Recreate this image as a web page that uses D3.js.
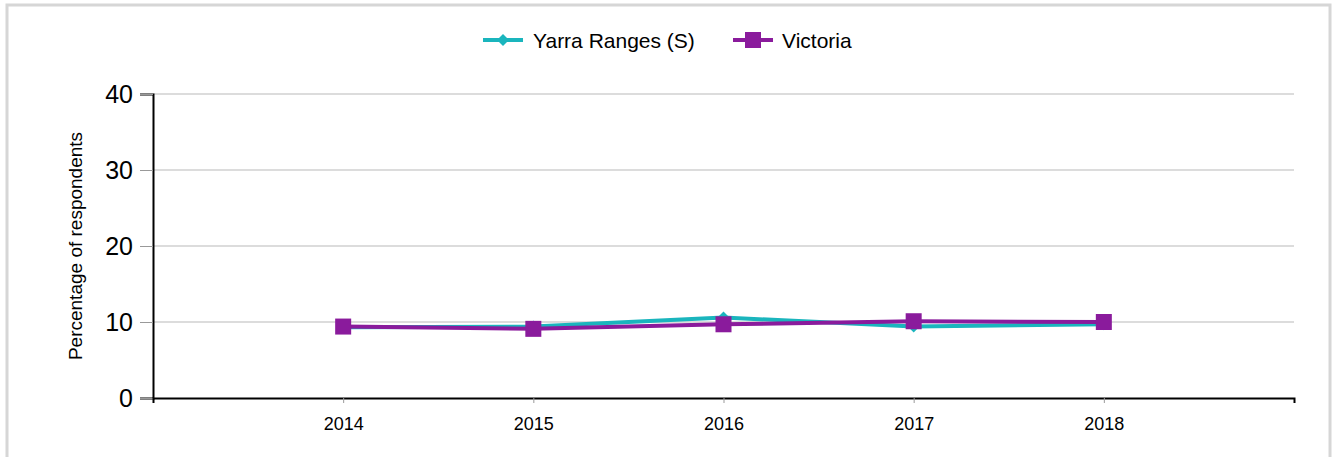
<!DOCTYPE html>
<html lang="en">
<head>
  <meta charset="UTF-8" />
  <title>Percentage of respondents</title>
  <script src="https://d3js.org/d3.v7.min.js"></script>
  <style>
    body {
      margin: 0;
      background: white;
      font-family: Arial, "Liberation Sans", sans-serif;
    }
    svg { display: block; }
    .grid line { stroke: #dcdcdc; stroke-width: 2px; }
  </style>
</head>
<body>
  <svg width="1338" height="457"></svg>

  <script>
    const years = ["2014", "2015", "2016", "2017", "2018"];
    const yarraRanges = [9.3, 9.4, 10.6, 9.4, 9.7];
    const victoria = [9.4, 9.1, 9.7, 10.1, 10.0];
    const yTicks = [0, 10, 20, 30, 40];

    const series = [
      { name: "Yarra Ranges (S)", values: yarraRanges, color: "#1ab5bd", marker: "diamond" },
      { name: "Victoria", values: victoria, color: "#8a1b9c", marker: "square" }
    ];

    const svg = d3.select("svg");

    // outer frame
    svg.append("rect")
      .attr("x", 7).attr("y", 5)
      .attr("width", 1323).attr("height", 470)
      .attr("fill", "none")
      .attr("stroke", "#d6d6d6")
      .attr("stroke-width", 3);

    const plotLeft = 153, plotRight = 1294, plotTop = 94, plotBottom = 398;

    const x = d3.scalePoint().domain(years).range([plotLeft, plotRight]).padding(1);
    const y = d3.scaleLinear().domain([0, 40]).range([plotBottom, plotTop]);

    // gridlines
    svg.append("g")
      .attr("class", "grid")
      .selectAll("line")
      .data(yTicks.filter(d => d > 0))
      .join("line")
      .attr("x1", plotLeft).attr("x2", plotRight)
      .attr("y1", d => y(d)).attr("y2", d => y(d));

    // y axis
    const yAxis = svg.append("g")
      .attr("transform", `translate(${plotLeft},0)`)
      .call(d3.axisLeft(y).tickValues(yTicks).tickSize(13).tickPadding(7));
    yAxis.select(".domain").attr("stroke", "#000").attr("stroke-width", 2);
    yAxis.selectAll(".tick line").attr("stroke", "#999").attr("stroke-width", 1);
    yAxis.selectAll(".tick text")
      .attr("font-size", 25)
      .attr("font-family", "Arial, 'Liberation Sans', sans-serif")
      .attr("fill", "#000");

    // x axis
    const xAxis = svg.append("g")
      .attr("transform", `translate(0,${plotBottom})`)
      .call(d3.axisBottom(x).tickSize(5).tickPadding(14).tickSizeOuter(5));
    xAxis.select(".domain").attr("stroke", "#000").attr("stroke-width", 2);
    xAxis.selectAll(".tick line").attr("stroke", "#999");
    xAxis.selectAll(".tick text")
      .attr("font-size", 18)
      .attr("font-family", "Arial, 'Liberation Sans', sans-serif")
      .attr("fill", "#000");

    // y title
    svg.append("text")
      .attr("transform", `translate(82,${(plotTop + plotBottom) / 2}) rotate(-90)`)
      .attr("text-anchor", "middle")
      .attr("font-size", 19)
      .text("Percentage of respondents");

    const line = d3.line()
      .x((d, i) => x(years[i]))
      .y(d => y(d));

    function drawMarker(g, type, color, cx, cy) {
      if (type === "square") {
        g.append("rect")
          .attr("x", cx - 8).attr("y", cy - 8)
          .attr("width", 16).attr("height", 16)
          .attr("fill", color);
      } else {
        g.append("path")
          .attr("d", `M${cx},${cy - 6}L${cx + 6},${cy}L${cx},${cy + 6}L${cx - 6},${cy}Z`)
          .attr("fill", color);
      }
    }

    series.forEach(s => {
      const g = svg.append("g");
      g.append("path")
        .datum(s.values)
        .attr("d", line)
        .attr("fill", "none")
        .attr("stroke", s.color)
        .attr("stroke-width", 4);
      s.values.forEach((v, i) => drawMarker(g, s.marker, s.color, x(years[i]), y(v)));
    });

    // legend
    const legendItems = [
      { x: 483, textX: 533 },
      { x: 733, textX: 782 }
    ];
    series.forEach((s, i) => {
      const g = svg.append("g");
      const lx = legendItems[i].x;
      g.append("line")
        .attr("x1", lx).attr("x2", lx + 40)
        .attr("y1", 40).attr("y2", 40)
        .attr("stroke", s.color)
        .attr("stroke-width", 4);
      drawMarker(g, s.marker, s.color, lx + 20, 40);
      g.append("text")
        .attr("x", legendItems[i].textX)
        .attr("y", 48)
        .attr("font-size", 21)
        .text(s.name);
    });
  </script>
</body>
</html>
